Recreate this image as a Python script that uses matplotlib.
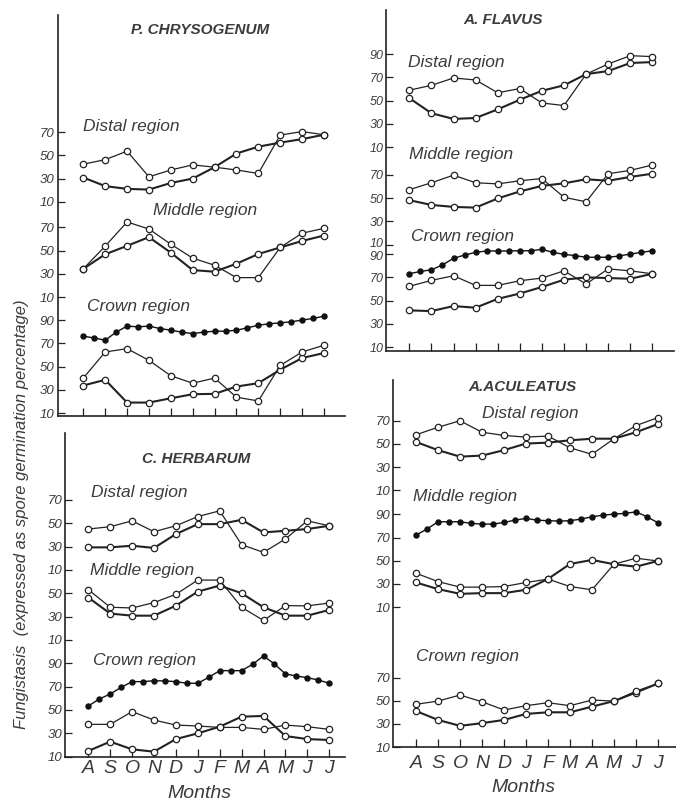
import numpy as np
import matplotlib
matplotlib.use('Agg')
import matplotlib.pyplot as plt
from matplotlib.transforms import ScaledTranslation

plt.rcParams['font.family'] = ['Liberation Sans', 'DejaVu Sans']
INK = '#222222'
TXT = '#3c3c3c'

W, H = 676, 801

months = ['A', 'S', 'O', 'N', 'D', 'J', 'F', 'M', 'A', 'M', 'J', 'J']
month_x = np.arange(12)
half_x = np.arange(23) / 2

# P. chrysogenum
pc_distal_a = [42.5, 46.4, 53.7, 31.6, 37.5, 41.9, 39.9, 37.5, 34.5, 67.6, 70.6, 67.9]
pc_distal_b = [31.0, 23.6, 21.2, 20.6, 26.3, 30.1, 39.9, 51.7, 57.6, 61.1, 64.1, 67.9]
pc_middle_a = [34.3, 53.8, 74.7, 68.6, 55.5, 43.5, 37.4, 26.7, 26.7, 52.7, 65.0, 69.2]
pc_middle_b = [34.3, 46.8, 54.1, 61.6, 48.2, 33.2, 31.8, 38.7, 47.1, 52.7, 58.3, 63.0]
pc_crown_a = [40.1, 62.6, 65.5, 55.4, 42.1, 35.7, 40.1, 23.6, 20.4, 51.0, 62.6, 68.4]
pc_crown_b = [33.7, 38.6, 19.0, 19.0, 22.7, 26.2, 26.5, 32.8, 35.7, 47.3, 57.4, 61.7]
pc_crown_dots = [76.2, 74.7, 72.7, 79.7, 84.9, 84.3, 84.9, 82.8, 81.4, 79.7, 78.5, 79.7,
                 80.5, 80.5, 81.4, 83.4, 85.7, 86.9, 87.7, 88.6, 90.1, 91.5, 93.5]

# A. flavus
af_distal_a = [58.9, 63.1, 69.4, 67.7, 56.7, 60.3, 47.9, 45.7, 72.7, 81.5, 88.6, 87.8]
af_distal_b = [52.1, 39.1, 34.2, 35.0, 42.4, 50.7, 58.4, 63.1, 72.7, 75.4, 82.3, 83.1]
af_middle_a = [57.3, 63.3, 69.8, 63.3, 62.3, 65.0, 66.9, 50.8, 46.9, 71.1, 73.9, 78.6]
af_middle_b = [48.3, 44.2, 42.5, 41.9, 49.8, 55.8, 60.6, 62.8, 66.3, 65.0, 68.3, 71.1]
af_crown_a = [62.2, 67.3, 71.3, 63.0, 63.0, 67.0, 69.3, 75.5, 64.2, 77.2, 75.5, 73.0]
af_crown_b = [41.5, 40.9, 45.2, 43.8, 51.4, 56.0, 61.6, 67.9, 69.9, 69.3, 68.7, 73.0]
af_crown_dots = [73.0, 75.0, 76.4, 80.6, 86.3, 89.1, 91.4, 92.6, 92.6, 92.6, 92.8, 92.8,
                 94.0, 91.4, 89.7, 88.6, 87.2, 87.2, 87.2, 88.3, 90.0, 91.4, 92.8]

# C. herbarum
ch_distal_a = [45.0, 47.0, 52.0, 42.7, 47.8, 55.7, 60.6, 31.6, 25.0, 36.5, 52.0, 47.8]
ch_distal_b = [29.3, 29.3, 30.7, 28.8, 40.7, 49.2, 49.2, 52.9, 42.1, 43.5, 45.0, 47.8]
ch_middle_a = [53.1, 38.0, 37.4, 42.0, 49.1, 61.3, 61.3, 38.0, 26.7, 39.4, 39.2, 41.6]
ch_middle_b = [46.3, 32.6, 30.8, 30.8, 39.4, 51.4, 56.6, 50.0, 38.0, 30.8, 30.8, 35.7]
ch_crown_a = [37.7, 37.7, 48.6, 41.4, 37.1, 36.3, 35.1, 35.1, 33.4, 37.1, 35.7, 33.4]
ch_crown_b = [14.9, 22.9, 16.3, 14.3, 25.1, 30.0, 35.7, 44.3, 44.9, 27.7, 25.1, 24.3]
ch_crown_dots = [53.4, 59.4, 63.7, 69.4, 74.3, 74.3, 75.1, 74.9, 74.3, 72.9, 72.9, 78.0,
                 83.7, 83.7, 83.7, 89.1, 96.3, 89.4, 80.9, 79.1, 77.7, 75.7, 72.9]

# A. aculeatus
aa_distal_a = [57.9, 64.4, 70.0, 60.1, 57.3, 55.9, 56.8, 46.6, 41.0, 54.5, 65.8, 72.8]
aa_distal_b = [51.7, 44.6, 39.0, 39.9, 44.6, 50.3, 51.1, 53.1, 54.5, 54.5, 60.1, 67.2]
aa_middle_a = [39.2, 32.0, 27.2, 27.2, 27.7, 31.2, 34.1, 27.7, 24.9, 47.0, 52.2, 49.8]
aa_middle_b = [31.2, 25.5, 21.4, 22.0, 22.0, 24.9, 34.3, 47.2, 50.7, 47.0, 44.9, 49.8]
aa_middle_dots = [72.2, 77.4, 83.7, 83.7, 83.7, 82.3, 81.7, 81.7, 83.1, 85.1, 86.6, 85.1,
                  84.6, 84.3, 84.6, 86.0, 88.0, 89.4, 90.3, 90.9, 92.3, 88.0, 82.8]
aa_crown_a = [46.9, 49.7, 54.9, 49.1, 42.0, 45.7, 48.3, 45.7, 50.6, 49.7, 58.3, 64.9]
aa_crown_b = [41.1, 33.4, 28.3, 30.6, 33.4, 38.6, 40.0, 40.0, 44.9, 49.7, 57.1, 64.9]


fig = plt.figure(figsize=(W / 100, H / 100), dpi=100)
fig.patch.set_facecolor('white')


def fx(x):
    return x / W


def fy(y):
    return 1 - y / H


def make_panel(left, right, top, bottom, y10, scale, x0, dx, show_months, pad):
    ax = fig.add_axes([fx(left), fy(bottom), (right - left) / W, (bottom - top) / H])
    ax.set_xlim((left - x0) / dx, (right - x0) / dx)
    ax.set_ylim(10 - (bottom - y10) / scale, 10 + (y10 - top) / scale)
    ax.set_facecolor('none')
    for s in ['top', 'right']:
        ax.spines[s].set_visible(False)
    for s in ['left', 'bottom']:
        ax.spines[s].set_linewidth(1.2)
        ax.spines[s].set_color(INK)
    ax.set_xticks(month_x)
    if show_months:
        ax.set_xticklabels(months, fontsize=14, style='italic', color=TXT)
    else:
        ax.set_xticklabels([])
    ax.tick_params(axis='x', direction='in', length=6, width=0.9, color=INK, pad=pad)
    ax.tick_params(axis='y', direction='in', length=5, width=0.9, color=INK, pad=2)
    return ax


def set_bands(ax, bands, size=9.5):
    pos, lab = [], []
    for ticks, off in bands:
        for t in ticks:
            pos.append(t + off)
            lab.append(str(t))
    ax.set_yticks(pos)
    ax.set_yticklabels(lab, fontsize=size, style='italic', color=TXT)
    return ax.get_yticklabels()


def nudge(lbl, dy_px):
    lbl.set_transform(lbl.get_transform() +
                      ScaledTranslation(0, dy_px / 100, fig.dpi_scale_trans))


def pair(ax, thin, thick, off):
    ax.plot(month_x, np.array(thick) + off, color=INK, lw=1.5, marker='o', ms=4.6,
            mfc='white', mec=INK, mew=0.9, zorder=3, clip_on=False)
    ax.plot(month_x, np.array(thin) + off, color=INK, lw=0.9, marker='o', ms=4.6,
            mfc='white', mec=INK, mew=0.9, zorder=4, clip_on=False)


def dots(ax, vals, off):
    ax.plot(half_x, np.array(vals) + off, color='#111111', lw=1.0, marker='o', ms=3.6,
            zorder=5, clip_on=False)


def label(x, y, s):
    fig.text(fx(x), fy(y), s, fontsize=12.5, style='italic', color=TXT,
             ha='left', va='center')


def title(x, y, s):
    fig.text(fx(x), fy(y), s, fontsize=11, style='italic', weight='bold', color=TXT,
             ha='center', va='center')


# P. chrysogenum
ax1 = make_panel(57.5, 345, 15, 416, 413, 1.16, 83.3, 21.88, False, 2)
set_bands(ax1, [([10, 30, 50, 70, 90], 0), ([10, 30, 50, 70], 100), ([10, 30, 50, 70], 182)])
pair(ax1, pc_distal_a, pc_distal_b, 182)
pair(ax1, pc_middle_a, pc_middle_b, 100)
pair(ax1, pc_crown_a, pc_crown_b, 0)
dots(ax1, pc_crown_dots, 0)
title(200, 30, 'P. CHRYSOGENUM')
label(83, 127, 'Distal region')
label(153, 211, 'Middle region')
label(87, 306, 'Crown region')

# A. flavus
ax2 = make_panel(386, 674, 10, 350.5, 347, 1.1625, 409.3, 22.1, False, 2)
lbls2 = set_bands(ax2, [([10, 30, 50, 70, 90], 0), ([10, 30, 50, 70], 88),
                        ([10, 30, 50, 70, 90], 172)], size=9)
# the crown "90" and middle "10" sit almost on top of each other
nudge(lbls2[4], -1.5)
nudge(lbls2[5], 2.0)
pair(ax2, af_distal_a, af_distal_b, 172)
pair(ax2, af_middle_a, af_middle_b, 88)
pair(ax2, af_crown_a, af_crown_b, 0)
dots(ax2, af_crown_dots, 0)
title(503, 20, 'A. FLAVUS')
label(408, 62, 'Distal region')
label(409, 155, 'Middle region')
label(411, 236, 'Crown region')

# C. herbarum
ax3 = make_panel(65, 345, 433, 757, 756.7, 1.1675, 88.3, 21.9, True, 2)
set_bands(ax3, [([10, 30, 50, 70, 90], 0), ([10, 30, 50], 100), ([10, 30, 50, 70], 160)])
pair(ax3, ch_distal_a, ch_distal_b, 160)
pair(ax3, ch_middle_a, ch_middle_b, 100)
pair(ax3, ch_crown_a, ch_crown_b, 0)
dots(ax3, ch_crown_dots, 0)
title(196, 459, 'C. HERBARUM')
label(91, 493, 'Distal region')
label(90, 570, 'Middle region')
label(93, 660, 'Crown region')
fig.text(fx(199), fy(793), 'Months', fontsize=14, style='italic', color=TXT,
         ha='center', va='center')

# A. aculeatus
ax4 = make_panel(393, 676, 380, 747, 748, 1.16, 416, 22.0, True, 6)
set_bands(ax4, [([10, 30, 50, 70], 0), ([10, 30, 50, 70, 90], 121), ([10, 30, 50, 70], 222)])
pair(ax4, aa_distal_a, aa_distal_b, 222)
pair(ax4, aa_middle_a, aa_middle_b, 121)
dots(ax4, aa_middle_dots, 121)
pair(ax4, aa_crown_a, aa_crown_b, 0)
title(522, 387, 'A.ACULEATUS')
label(482, 413, 'Distal region')
label(413, 497, 'Middle region')
label(416, 657, 'Crown region')
fig.text(fx(523), fy(787), 'Months', fontsize=14, style='italic', color=TXT,
         ha='center', va='center')

fig.text(fx(22), fy(514), 'Fungistasis  (expressed as spore germination percentage)',
         rotation=90, fontsize=12, style='italic', color=TXT, ha='center', va='center')

fig.savefig('out.png', dpi=100)
